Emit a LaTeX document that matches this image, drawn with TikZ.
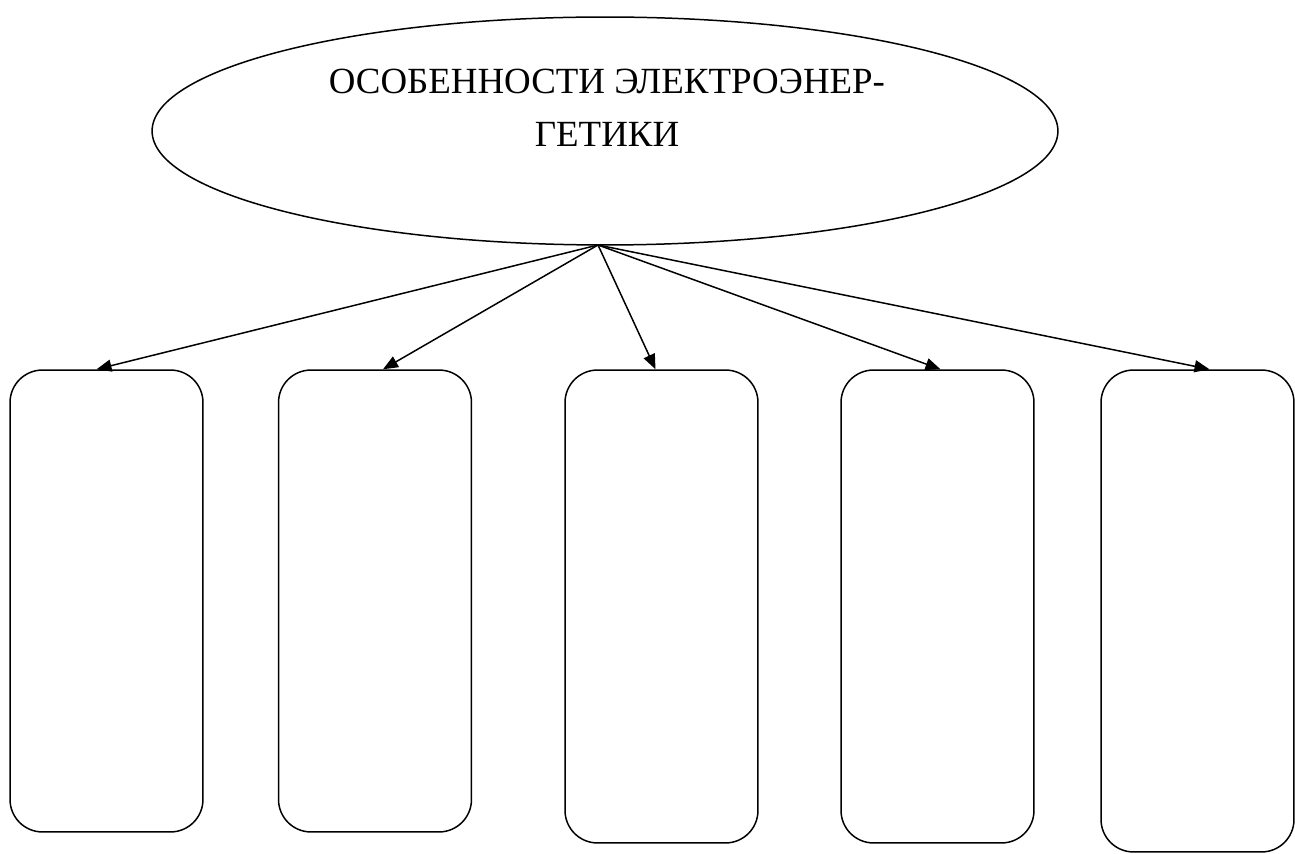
\documentclass[tikz,border=0pt]{standalone}
\usepackage{fontspec}
\setmainfont{Liberation Serif}
\usetikzlibrary{calc,arrows.meta,shapes.geometric}
\begin{document}
\begin{tikzpicture}[x=0.02cm,y=-0.02cm,
  line width=0.85pt,
  oval/.style={draw,ellipse,minimum width=18.12cm,minimum height=4.56cm,inner sep=0pt},
  card/.style={draw,rectangle,rounded corners=0.65cm,minimum width=3.86cm,inner sep=0pt},
  link/.style={-{Triangle[length=0.3cm,width=0.24cm]}}]
\useasboundingbox (0,0) rectangle (1295,854);
\node[oval] (top) at (605,131) {};
\node[align=center,font=\fontsize{21}{30}\selectfont] (title) at (607,108) {ОСОБЕННОСТИ ЭЛЕКТРОЭНЕР-\\ГЕТИКИ};
\coordinate (src) at (598,245);
\node[card,minimum height=9.24cm] (b1) at (106.5,601) {};
\node[card,minimum height=9.24cm] (b2) at (375,601) {};
\node[card,minimum height=9.46cm] (b3) at (661.5,606.5) {};
\node[card,minimum height=9.46cm] (b4) at (937.5,606.5) {};
\node[card,minimum height=9.64cm] (b5) at (1197.5,611) {};
\draw[link] (src) -- ($(b1.north)+(-10,0)$);
\draw[link] (src) -- ($(b2.north)+(8,0)$);
\draw[link] (src) -- ($(b3.north)+(-6,0)$);
\draw[link] (src) -- ($(b4.north)+(3,0)$);
\draw[link] (src) -- ($(b5.north)+(12,0)$);
\end{tikzpicture}
\end{document}
